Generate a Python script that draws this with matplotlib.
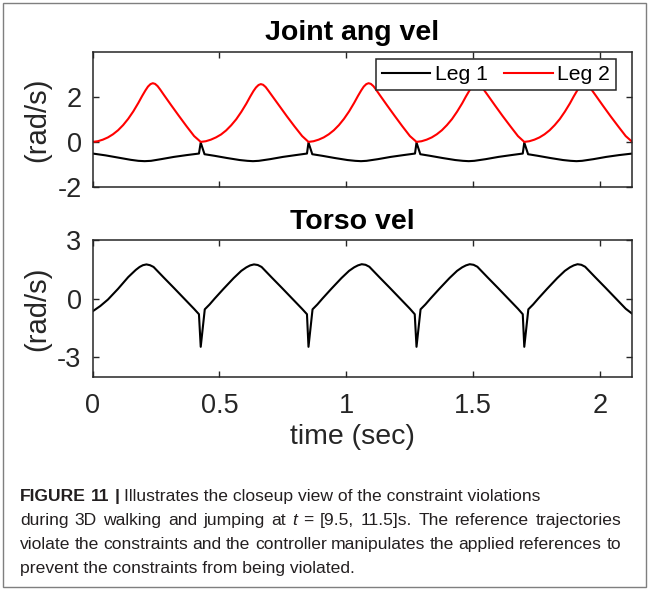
import matplotlib
matplotlib.use("Agg")
import numpy as np
from matplotlib import pyplot as plt
from matplotlib.patches import Rectangle

# ---- data ----
# Leg 1 joint angular velocity (rad/s)
t_leg1 = [0.000, 0.050, 0.100, 0.150, 0.180, 0.205, 0.230, 0.270, 0.320, 0.370, 0.419, 0.426, 0.441,
          0.480, 0.530, 0.580, 0.610, 0.632, 0.655, 0.700, 0.750, 0.800, 0.845, 0.851, 0.866,
          0.905, 0.955, 1.005, 1.035, 1.058, 1.080, 1.125, 1.175, 1.225, 1.271, 1.277, 1.292,
          1.330, 1.380, 1.430, 1.460, 1.483, 1.505, 1.550, 1.600, 1.650, 1.696, 1.702, 1.717,
          1.755, 1.805, 1.855, 1.885, 1.908, 1.930, 1.975, 2.025, 2.075, 2.128]
v_leg1 = [-0.52, -0.60, -0.70, -0.80, -0.845, -0.86, -0.845, -0.77, -0.67, -0.59, -0.52, -0.03, -0.55,
          -0.62, -0.72, -0.81, -0.845, -0.86, -0.845, -0.77, -0.67, -0.59, -0.52, -0.03, -0.55,
          -0.62, -0.72, -0.81, -0.845, -0.86, -0.845, -0.77, -0.67, -0.59, -0.52, -0.03, -0.55,
          -0.62, -0.72, -0.81, -0.845, -0.86, -0.845, -0.77, -0.67, -0.59, -0.52, -0.03, -0.55,
          -0.62, -0.72, -0.81, -0.845, -0.86, -0.845, -0.77, -0.67, -0.59, -0.52]

# Leg 2 joint angular velocity (rad/s)
t_leg2 = [0.000, 0.020, 0.040, 0.060, 0.080, 0.100, 0.120, 0.140, 0.160, 0.180, 0.195, 0.208, 0.218,
          0.228, 0.237, 0.246, 0.256, 0.266, 0.280, 0.310, 0.340, 0.370, 0.400,
          0.426, 0.446, 0.466, 0.486, 0.506, 0.526, 0.546, 0.566, 0.586, 0.606, 0.621, 0.634, 0.644,
          0.654, 0.663, 0.672, 0.682, 0.692, 0.706, 0.736, 0.766, 0.796, 0.826,
          0.851, 0.871, 0.891, 0.911, 0.931, 0.951, 0.971, 0.991, 1.011, 1.031, 1.046, 1.059, 1.069,
          1.079, 1.088, 1.097, 1.107, 1.117, 1.131, 1.161, 1.191, 1.221, 1.251,
          1.277, 1.297, 1.317, 1.337, 1.357, 1.377, 1.397, 1.417, 1.437, 1.457, 1.472, 1.485, 1.495,
          1.505, 1.514, 1.523, 1.533, 1.543, 1.557, 1.587, 1.617, 1.647, 1.677,
          1.702, 1.722, 1.742, 1.762, 1.782, 1.802, 1.822, 1.842, 1.862, 1.882, 1.897, 1.910, 1.920,
          1.930, 1.939, 1.948, 1.958, 1.968, 1.982, 2.012, 2.042, 2.072, 2.102, 2.128]
v_leg2 = [0.00, 0.03, 0.10, 0.20, 0.34, 0.52, 0.75, 1.03, 1.36, 1.74, 2.05, 2.30, 2.47,
          2.58, 2.62, 2.59, 2.49, 2.34, 2.11, 1.63, 1.16, 0.70, 0.26,
          0.00, 0.03, 0.10, 0.20, 0.33, 0.51, 0.74, 1.01, 1.34, 1.71, 2.02, 2.27, 2.43,
          2.54, 2.58, 2.55, 2.45, 2.30, 2.08, 1.61, 1.14, 0.69, 0.26,
          0.00, 0.03, 0.10, 0.20, 0.34, 0.52, 0.75, 1.03, 1.36, 1.74, 2.05, 2.30, 2.47,
          2.58, 2.62, 2.59, 2.49, 2.34, 2.11, 1.63, 1.16, 0.70, 0.26,
          0.00, 0.03, 0.10, 0.20, 0.34, 0.52, 0.75, 1.02, 1.35, 1.72, 2.03, 2.28, 2.45,
          2.56, 2.60, 2.57, 2.47, 2.32, 2.10, 1.62, 1.15, 0.70, 0.26,
          0.00, 0.03, 0.10, 0.20, 0.34, 0.52, 0.75, 1.02, 1.35, 1.72, 2.03, 2.28, 2.45,
          2.56, 2.60, 2.57, 2.47, 2.32, 2.10, 1.62, 1.15, 0.70, 0.26, 0.00]

# Torso velocity (rad/s)
t_torso = [0.000, 0.030, 0.060, 0.100, 0.140, 0.170, 0.185, 0.198, 0.212, 0.226, 0.240, 0.280, 0.320,
           0.360, 0.400, 0.419,
           0.426, 0.442, 0.461, 0.481, 0.516, 0.556, 0.586, 0.606, 0.621, 0.636, 0.651, 0.666, 0.706,
           0.746, 0.786, 0.826, 0.845,
           0.851, 0.867, 0.886, 0.906, 0.941, 0.981, 1.011, 1.031, 1.046, 1.061, 1.076, 1.091, 1.131,
           1.171, 1.211, 1.251, 1.270,
           1.277, 1.293, 1.312, 1.332, 1.367, 1.407, 1.437, 1.457, 1.472, 1.487, 1.502, 1.517, 1.557,
           1.597, 1.637, 1.677, 1.696,
           1.702, 1.718, 1.737, 1.757, 1.792, 1.832, 1.862, 1.882, 1.897, 1.912, 1.927, 1.942, 1.982,
           2.022, 2.062, 2.102, 2.128]
v_torso = [-0.65, -0.38, -0.05, 0.50, 1.10, 1.47, 1.62, 1.71, 1.75, 1.71, 1.62, 1.08, 0.55,
           0.01, -0.53, -0.80,
           -2.47, -0.55, -0.30, 0.00, 0.50, 1.05, 1.42, 1.60, 1.70, 1.75, 1.72, 1.62, 1.08,
           0.55, 0.01, -0.53, -0.80,
           -2.47, -0.55, -0.30, 0.00, 0.50, 1.05, 1.42, 1.60, 1.70, 1.76, 1.73, 1.63, 1.09,
           0.56, 0.02, -0.52, -0.80,
           -2.47, -0.55, -0.30, 0.00, 0.50, 1.05, 1.42, 1.60, 1.70, 1.76, 1.73, 1.63, 1.09,
           0.56, 0.02, -0.52, -0.80,
           -2.47, -0.55, -0.30, 0.00, 0.50, 1.05, 1.42, 1.60, 1.70, 1.76, 1.73, 1.63, 1.09,
           0.56, 0.02, -0.52, -0.78]

xticks = [0, 0.5, 1, 1.5, 2]
xticklabels = ["0", "0.5", "1", "1.5", "2"]
# caption lines: list of (word, weight, style), plus whether the line is justified
caption = [
    ([("FIGURE", "bold", "normal"), ("11", "bold", "normal"), ("|", "bold", "normal"),
      ("Illustrates the closeup view of the constraint violations", "normal", "normal")], False),
    ([("during", "normal", "normal"), ("3D", "normal", "normal"), ("walking", "normal", "normal"),
      ("and", "normal", "normal"), ("jumping", "normal", "normal"), ("at", "normal", "normal"),
      ("t", "normal", "italic"), ("=", "normal", "normal"), ("[9.5,", "normal", "normal"),
      ("11.5]s.", "normal", "normal"), ("The", "normal", "normal"), ("reference", "normal", "normal"),
      ("trajectories", "normal", "normal")], True),
    ([(w, "normal", "normal") for w in
      "violate the constraints and the controller manipulates the applied references to".split()], True),
    ([("prevent the constraints from being violated.", "normal", "normal")], False),
]

plt.rcParams['font.family'] = ['Liberation Sans', 'DejaVu Sans']
plt.rcParams['axes.unicode_minus'] = False

W, H = 649, 592
fig = plt.figure(figsize=(W / 100, H / 100), dpi=100)


def box(x0, y0, x1, y1):
    # pixel box (top-left origin) -> figure fraction rect
    return [x0 / W, 1 - y1 / H, (x1 - x0) / W, (y1 - y0) / H]


ax1 = fig.add_axes(box(92.7, 52.3, 632.3, 186.7))
ax2 = fig.add_axes(box(92.7, 240.0, 632.3, 376.7))

ax1.plot(t_leg1, v_leg1, color='black', lw=1.5, label='Leg 1')
ax1.plot(t_leg2, v_leg2, color='red', lw=1.5, label='Leg 2')
ax2.plot(t_torso, v_torso, color='black', lw=1.5)

ax1.set_ylim(-2, 4)
ax1.set_yticks([-2, 0, 2])
ax2.set_ylim(-4, 3)
ax2.set_yticks([-3, 0, 3])

for ax in (ax1, ax2):
    ax.set_xlim(0, 2.128)
    ax.set_xticks(xticks)
    ax.tick_params(direction='in', length=4.5, width=1.0, top=True, right=True,
                   labelsize=19.5, colors='#262626')
    ax.tick_params(axis='y', pad=8)
    ax.tick_params(axis='x', pad=12)
    for s in ax.spines.values():
        s.set_linewidth(1.1)
        s.set_color('#262626')
    ax.set_ylabel('(rad/s)', fontsize=21, color='#262626')

ax1.set_xticklabels([])
ax2.set_xticklabels(xticklabels)
ax1.yaxis.set_label_coords(-0.077, 0.5)
ax2.yaxis.set_label_coords(-0.077, 0.5)

ctr = (352 - 92.7) / 539.6
ax1.set_title('Joint ang vel', fontsize=20.5, fontweight='bold', pad=9, x=ctr)
ax2.set_title('Torso vel', fontsize=20.5, fontweight='bold', pad=8, x=ctr)
ax2.set_xlabel('time (sec)', fontsize=20.5, color='#262626')
ax2.xaxis.set_label_coords(ctr, -(437 - 376.7) / 136.7)
ax2.xaxis.label.set_va('center')

leg = ax1.legend(loc='upper right', bbox_to_anchor=((616 - 92.7) / 539.6, 1 - (59 - 52.3) / 134.4),
                 ncol=2, fontsize=15.2, frameon=True, fancybox=False,
                 edgecolor='#262626', framealpha=1, handlelength=2.3, handletextpad=0.2,
                 columnspacing=0.8, borderpad=0.28, borderaxespad=0)
leg.get_frame().set_linewidth(1.1)

# caption laid out word by word (lines 2 and 3 are justified in the source)
fig.canvas.draw()
renderer = fig.canvas.get_renderer()
cap_size = 12.6
probe1 = fig.text(0, 0, 'a b', fontsize=cap_size)
probe2 = fig.text(0, 0, 'ab', fontsize=cap_size)
space = probe1.get_window_extent(renderer).width - probe2.get_window_extent(renderer).width
probe1.remove()
probe2.remove()

line_y = [496, 520, 544, 568]
x_left, x_right = 20, 621
for (row, justify), yy in zip(caption, line_y):
    texts = []
    for txt, weight, style in row:
        t = fig.text(0, 1 - (yy + 5) / H, txt, fontsize=cap_size, fontweight=weight, fontstyle=style,
                     va='baseline', ha='left', color='#231f20')
        texts.append((t, t.get_window_extent(renderer).width))
    total = sum(w for _, w in texts)
    gap = (x_right - x_left - total) / (len(texts) - 1) if justify else space
    x = x_left
    for t, w in texts:
        t.set_x(x / W)
        x += w + gap

# outer frame
fig.add_artist(Rectangle((3 / W, 1 - 587 / H), (646 - 3) / W, (587 - 3) / H,
                         transform=fig.transFigure, fill=False, edgecolor='#7f7f7f', lw=1.0))

fig.savefig('out.png', dpi=100)
